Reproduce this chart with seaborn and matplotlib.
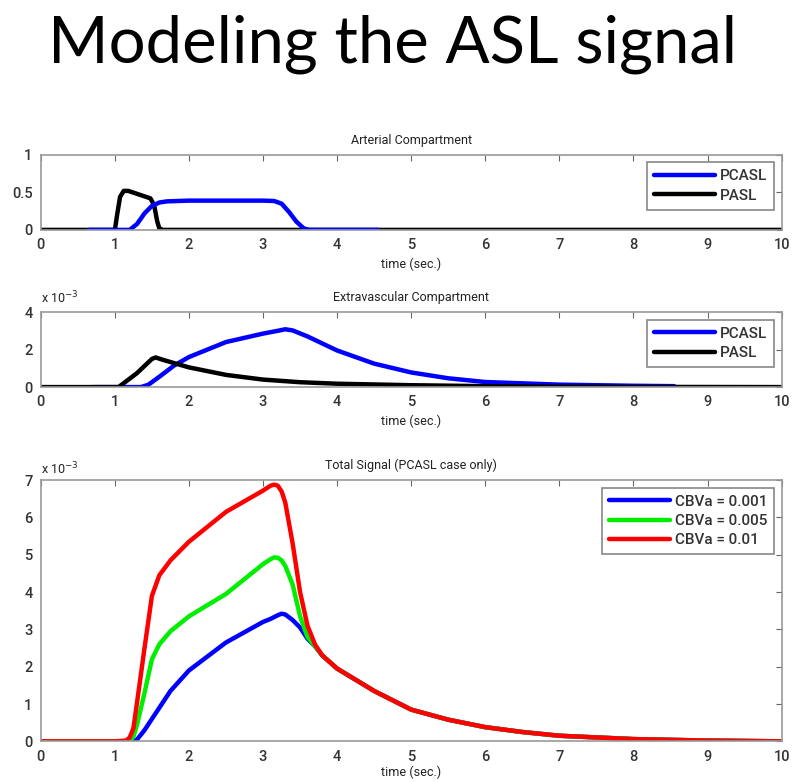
import numpy as np
import pandas as pd
import seaborn as sns
import matplotlib
matplotlib.use('Agg')
import matplotlib.pyplot as plt

# --- data ---
# Arterial compartment
art_pcasl_t = [0.65, 1.0, 1.2, 1.3, 1.4, 1.5, 1.6, 1.7, 2.0, 2.5, 3.0, 3.15, 3.25, 3.35, 3.45, 3.55, 3.62, 4.0, 4.55]
art_pcasl_y = [0, 0, 0, 0.08, 0.22, 0.32, 0.365, 0.38, 0.39, 0.39, 0.39, 0.385, 0.35, 0.24, 0.11, 0.02, 0, 0, 0]
art_pasl_t = [0, 1.0, 1.03, 1.07, 1.12, 1.18, 1.3, 1.48, 1.53, 1.57, 1.6, 1.65, 10]
art_pasl_y = [0, 0, 0.2, 0.44, 0.52, 0.52, 0.48, 0.42, 0.33, 0.12, 0.02, 0, 0]

# Extravascular compartment (x 1e-3)
ev_pcasl_t = [0.7, 1.0, 1.35, 1.45, 1.6, 1.8, 2.0, 2.5, 3.0, 3.2, 3.3, 3.4, 3.6, 4.0, 4.5, 5.0, 5.5,
              6.0, 7.0, 8.0, 8.55]
ev_pcasl_y = [0, 0, 0, 0.12, 0.55, 1.15, 1.6, 2.4, 2.85, 3.0, 3.08, 3.02, 2.7, 1.95, 1.25, 0.78, 0.47,
              0.27, 0.13, 0.07, 0.05]
ev_pasl_t = [0, 1.05, 1.3, 1.5, 1.55, 1.65, 2.0, 2.5, 3.0, 3.5, 4.0, 5.0, 6.0, 7.0, 8.0, 10]
ev_pasl_y = [0, 0, 0.75, 1.5, 1.58, 1.45, 1.05, 0.65, 0.4, 0.26, 0.18, 0.1, 0.05, 0.02, 0.01, 0]

# Total signal (x 1e-3)
tot_t = [0, 1.0, 1.15, 1.2, 1.25, 1.3, 1.4, 1.5, 1.6, 1.75, 2.0, 2.5, 3.0, 3.1, 3.15, 3.2, 3.25, 3.3,
         3.4, 3.5, 3.6, 3.7, 3.8, 4.0, 4.5, 5.0, 5.5, 6.0, 6.5, 7.0, 8.0, 9.0, 10]
tot_001 = [0, 0, 0, 0, 0, 0.05, 0.3, 0.6, 0.9, 1.35, 1.9, 2.65, 3.2, 3.28, 3.33, 3.38, 3.42, 3.4,
           3.25, 3.05, 2.75, 2.55, 2.3, 1.95, 1.35, 0.85, 0.58, 0.38, 0.25, 0.15, 0.06, 0.02, 0]
tot_005 = [0, 0, 0, 0.02, 0.12, 0.45, 1.3, 2.2, 2.6, 2.95, 3.35, 3.95, 4.75, 4.88, 4.93, 4.92, 4.85, 4.7,
           4.2, 3.35, 2.8, 2.55, 2.3, 1.95, 1.35, 0.85, 0.58, 0.38, 0.25, 0.15, 0.06, 0.02, 0]
tot_01 = [0, 0, 0.02, 0.1, 0.35, 1.05, 2.5, 3.9, 4.45, 4.85, 5.35, 6.15, 6.72, 6.85, 6.88, 6.85, 6.7, 6.4,
          5.3, 4.0, 3.1, 2.6, 2.3, 1.95, 1.35, 0.85, 0.58, 0.38, 0.25, 0.15, 0.06, 0.02, 0]

xticks = list(range(0, 11))

sns.set_style('white')
plt.rcParams['font.family'] = ['Roboto', 'DejaVu Sans']
plt.rcParams['xtick.direction'] = 'in'
plt.rcParams['ytick.direction'] = 'in'

fig = plt.figure(figsize=(8, 7.82), dpi=100)
fig.text(0.49, 0.944, 'Modeling the ASL signal', ha='center', va='center',
         fontsize=47, fontweight='normal', color='black', family=['Lato', 'DejaVu Sans'])

ax1 = fig.add_axes([0.051, 0.706, 0.926, 0.096])
ax2 = fig.add_axes([0.051, 0.505, 0.926, 0.096])
ax3 = fig.add_axes([0.051, 0.052, 0.926, 0.334])

lw = 3.2


def style(ax, ylim, yticks, title, lpad=4):
    ax.set_xlim(0, 10)
    ax.set_ylim(*ylim)
    ax.set_xticks(xticks)
    ax.set_yticks(yticks)
    ax.set_xlabel('time (sec.)', fontsize=9, labelpad=lpad, color='#222222')
    ax.set_ylabel('')
    ax.set_title(title, fontsize=9, pad=8, color='#222222')
    ax.tick_params(labelsize=10.5, length=4, color='#666666', top=True, right=True,
                   labelcolor='#333333', pad=6)
    for lab in ax.get_xticklabels() + ax.get_yticklabels():
        lab.set_fontweight('medium')
    for s in ax.spines.values():
        s.set_color('#999999')
        s.set_linewidth(1.2)


def legend(ax, order):
    h, l = ax.get_legend_handles_labels()
    idx = [l.index(o) for o in order]
    leg = ax.legend([h[i] for i in idx], [l[i] for i in idx], loc='upper right',
                    prop={'size': 11, 'weight': 'medium'}, handlelength=4.0, handletextpad=0.3,
                    borderpad=0.45, labelspacing=0.35, fancybox=False, framealpha=1,
                    borderaxespad=0.5)
    leg.get_frame().set_edgecolor('#888888')
    leg.get_frame().set_linewidth(1.2)
    for t in leg.get_texts():
        t.set_color('#333333')


# panel 1
df = pd.DataFrame({'t': art_pasl_t, 'y': art_pasl_y})
sns.lineplot(data=df, x='t', y='y', ax=ax1, color='black', lw=lw, label='PASL')
df = pd.DataFrame({'t': art_pcasl_t, 'y': art_pcasl_y})
sns.lineplot(data=df, x='t', y='y', ax=ax1, color='#0000ff', lw=lw, label='PCASL')
style(ax1, (0, 1), [0, 0.5, 1], 'Arterial Compartment')
ax1.set_yticklabels(['0', '0.5', '1'], fontweight='medium')
legend(ax1, ['PCASL', 'PASL'])

# panel 2
df = pd.DataFrame({'t': ev_pcasl_t, 'y': ev_pcasl_y})
sns.lineplot(data=df, x='t', y='y', ax=ax2, color='#0000ff', lw=lw, label='PCASL')
df = pd.DataFrame({'t': ev_pasl_t, 'y': ev_pasl_y})
sns.lineplot(data=df, x='t', y='y', ax=ax2, color='black', lw=lw, label='PASL')
style(ax2, (0, 4), [0, 2, 4], 'Extravascular Compartment')
legend(ax2, ['PCASL', 'PASL'])
ax2.text(0.0, 1.07, r'x 10$^{-3}$', transform=ax2.transAxes, fontsize=9, va='bottom',
         color='#222222')

# panel 3
tot = pd.DataFrame({'t': tot_t * 3,
                    'y': tot_001 + tot_005 + tot_01,
                    'case': ['CBVa = 0.001'] * len(tot_t) + ['CBVa = 0.005'] * len(tot_t)
                            + ['CBVa = 0.01'] * len(tot_t)})
sns.lineplot(data=tot, x='t', y='y', hue='case', ax=ax3, lw=lw,
             palette=['#0000ff', '#00ee00', '#ff0000'])
style(ax3, (0, 7), list(range(8)), 'Total Signal (PCASL case only)', lpad=1.5)
legend(ax3, ['CBVa = 0.001', 'CBVa = 0.005', 'CBVa = 0.01'])
ax3.text(0.0, 1.01, r'x 10$^{-3}$', transform=ax3.transAxes, fontsize=9, va='bottom',
         color='#222222')

fig.savefig('out.png', dpi=100)
